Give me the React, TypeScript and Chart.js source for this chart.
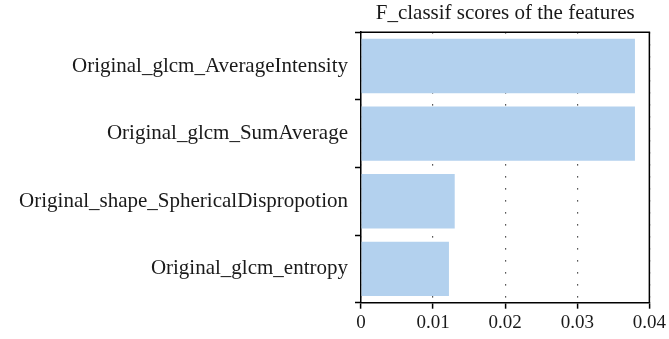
import React, { useEffect, useRef } from 'react';
import { Chart, registerables } from 'chart.js';

Chart.register(...registerables);

const categories: string[] = [
  'Original_glcm_AverageIntensity',
  'Original_glcm_SumAverage',
  'Original_shape_SphericalDispropotion',
  'Original_glcm_entropy',
];
const scores: number[] = [0.038, 0.038, 0.013, 0.0122];
const xTickValues: number[] = [0, 0.01, 0.02, 0.03, 0.04];
const chartTitle = 'F_classif scores of the features';

const FONT = "'Liberation Serif', 'DejaVu Serif', serif";

const framePlugin = {
  id: 'frame',
  afterDraw(chart: any) {
    const { ctx, chartArea } = chart;
    ctx.save();
    ctx.strokeStyle = '#000';
    ctx.lineWidth = 1.5;
    ctx.beginPath();
    ctx.moveTo(chartArea.left, chartArea.top);
    ctx.lineTo(chartArea.right, chartArea.top);
    ctx.lineTo(chartArea.right, chartArea.bottom);
    ctx.stroke();
    ctx.restore();
  },
};

export default function App() {
  const ref = useRef<HTMLCanvasElement | null>(null);
  useEffect(() => {
    document.body.style.margin = '0';
    const canvas = ref.current;
    if (!canvas) return;
    const chart = new Chart(canvas, {
      type: 'bar',
      data: {
        labels: categories,
        datasets: [
          {
            data: scores,
            backgroundColor: '#b3d1ee',
            borderWidth: 0,
            categoryPercentage: 1,
            barPercentage: 0.805,
          },
        ],
      },
      plugins: [framePlugin],
      options: {
        indexAxis: 'y',
        animation: false,
        responsive: false,
        maintainAspectRatio: false,
        layout: { padding: { left: 0, right: 18, top: 0, bottom: 1.5 } },
        plugins: {
          legend: { display: false },
          tooltip: { enabled: false },
          title: {
            display: true,
            text: chartTitle,
            fullSize: false,
            color: '#1a1a1a',
            font: { family: FONT, size: 21, weight: 'normal' },
            padding: { top: 1, bottom: 6 },
          },
        },
        scales: {
          x: {
            type: 'linear',
            position: 'bottom',
            min: 0,
            max: 0.04,
            afterBuildTicks: (scale: any) => {
              scale.ticks = xTickValues.map((v) => ({ value: v }));
            },
            ticks: {
              color: '#1a1a1a',
              font: { family: FONT, size: 19 },
              padding: 3,
              maxRotation: 0,
              callback: (v: any) => (Number(v) === 0 ? '0' : Number(v).toFixed(2)),
            },
            grid: {
              display: true,
              drawOnChartArea: true,
              drawTicks: true,
              color: '#222',
              lineWidth: 1.2,
              tickColor: '#000',
              tickLength: 6,
              tickWidth: 1.5,
            },
            border: { display: true, color: '#000', width: 1.5, dash: [1.2, 10.8] },
          },
          y: {
            type: 'category',
            afterFit: (scale: any) => {
              scale.width = 361;
            },
            ticks: {
              color: '#1a1a1a',
              font: { family: FONT, size: 21 },
              padding: 7,
            },
            grid: {
              display: true,
              drawOnChartArea: false,
              drawTicks: true,
              color: '#000',
              tickColor: '#000',
              tickLength: 6,
              tickWidth: 1.5,
            },
            border: { display: true, color: '#000', width: 1.5 },
          },
        },
      },
    } as any);
    return () => chart.destroy();
  }, []);
  return (
    <div style={{ width: 669, height: 339 }}>
      <canvas ref={ref} width={669} height={339} style={{ display: 'block' }} />
    </div>
  );
}
